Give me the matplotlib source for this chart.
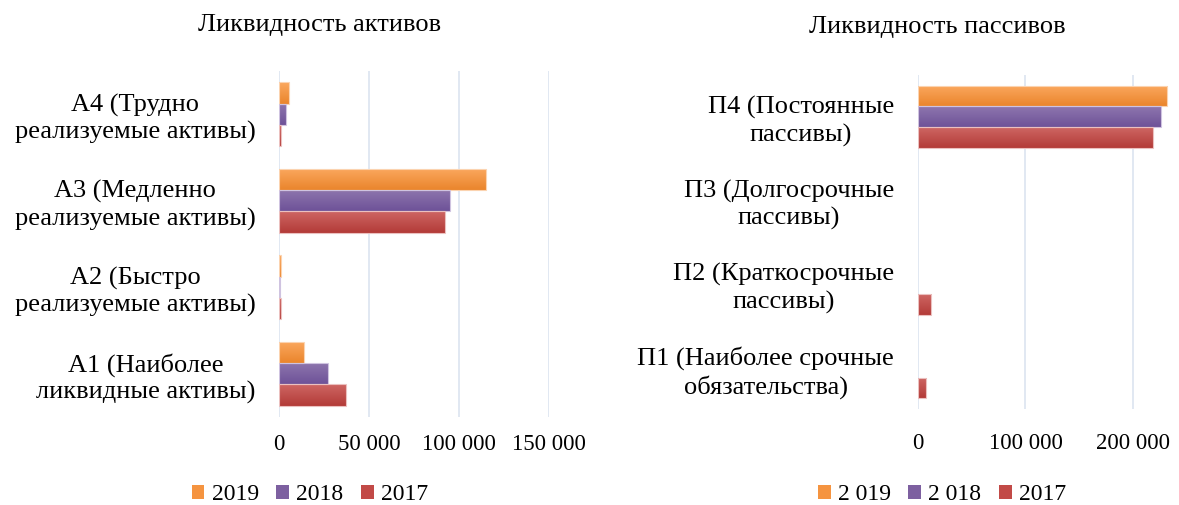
import matplotlib
matplotlib.use("Agg")
import numpy as np
import matplotlib.pyplot as plt
from matplotlib.patches import Patch
from matplotlib.colors import LinearSegmentedColormap
from matplotlib.ticker import FuncFormatter

plt.rcParams['font.family'] = ['Liberation Serif', 'DejaVu Serif']

# Ликвидность активов (снизу вверх: А1 .. А4)
assets_labels = ['А1 (Наиболее\nликвидные активы)',
                 'А2 (Быстро\nреализуемые активы)',
                 'А3 (Медленно\nреализуемые активы)',
                 'А4 (Трудно\nреализуемые активы)']
assets_2019 = [13500, 700, 115000, 5200]
assets_2018 = [27000, 600, 95000, 3500]
assets_2017 = [37000, 700, 92000, 900]

# Ликвидность пассивов (снизу вверх: П1 .. П4)
liab_labels = ['П1 (Наиболее срочные\nобязательства)',
               'П2 (Краткосрочные\nпассивы)',
               'П3 (Долгосрочные\nпассивы)',
               'П4 (Постоянные\nпассивы)']
liab_2019 = [0, 0, 0, 231500]
liab_2018 = [0, 0, 0, 225500]
liab_2017 = [8000, 12500, 0, 218500]

left_legend = ['2019', '2018', '2017']
right_legend = ['2 019', '2 018', '2017']

COLORS = ['#F59440', '#7D60A0', '#C24A47']
GRAD = [('#EA852C', '#FBA85F'), ('#6E5298', '#8E76AE'), ('#B33B38', '#CE6663')]
EDGES = ['#FBD3B0', '#CFC3E0', '#EBC0BF']
GRID = '#DCE4F0'
BH = 0.247


def fmt(x, pos):
    return f'{int(round(x)):,}'.replace(',', ' ')


def draw(ax, labels, series, xmax, ticks, tick_pad):
    ys = range(len(labels))
    offsets = [BH, 0, -BH]
    grad = np.linspace(0, 1, 64).reshape(-1, 1)
    for vals, off, c, g, e in zip(series, offsets, COLORS, GRAD, EDGES):
        bars = ax.barh([y + off for y in ys], vals, height=BH, color=c,
                       linewidth=0, zorder=3)
        cmap = LinearSegmentedColormap.from_list('g', list(g))
        # vertical gradient like the Excel fill
        for p, v in zip(bars.patches, vals):
            if v <= 0:
                continue
            x0, y0 = p.get_x(), p.get_y()
            im = ax.imshow(grad, extent=[x0, x0 + p.get_width(), y0, y0 + p.get_height()],
                           origin='lower', aspect='auto', cmap=cmap, zorder=3.5)
            im.set_clip_path(p)
        ax.barh([y + off for y in ys], vals, height=BH, facecolor='none',
                edgecolor=[e if v > 0 else 'none' for v in vals],
                linewidth=0.8, zorder=4)
    ax.set_xlim(0, xmax)
    ax.set_ylim(-0.5, len(labels) - 0.5)
    ax.set_xticks(ticks)
    ax.xaxis.set_major_formatter(FuncFormatter(fmt))
    ax.set_yticks(list(ys))
    ax.set_yticklabels(labels, multialignment='center', fontsize=19,
                       linespacing=1.25)
    ax.tick_params(axis='y', length=0, pad=17)
    ax.tick_params(axis='x', length=0, pad=tick_pad, labelsize=16.5)
    ax.grid(axis='x', color=GRID, linewidth=1.2, zorder=0)
    for s in ax.spines.values():
        s.set_visible(False)


W, H = 1179, 505
fig = plt.figure(figsize=(W / 100, H / 100), dpi=100)

ax1 = fig.add_axes([279.3 / W, 1 - 417 / H, 270 / W, 346 / H])
draw(ax1, assets_labels, [assets_2019, assets_2018, assets_2017],
     150000, [0, 50000, 100000, 150000], 12)

ax2 = fig.add_axes([917.7 / W, 1 - 409 / H, (W - 917.7) / W, 334 / H])
draw(ax2, liab_labels, [liab_2019, liab_2018, liab_2017],
     242400, [0, 100000, 200000], 17)

fig.text(320 / W, 1 - 25 / H, 'Ликвидность активов', ha='center',
         va='center', fontsize=19)
fig.text(937 / W, 1 - 27 / H, 'Ликвидность пассивов', ha='center',
         va='center', fontsize=19)

for labels, cx in [(left_legend, 310), (right_legend, 942)]:
    handles = [Patch(facecolor=c, edgecolor='none') for c in COLORS]
    fig.legend(handles, labels, loc='center', bbox_to_anchor=(cx / W, 1 - 495 / H),
               ncol=3, frameon=False, fontsize=17, handlelength=0.55,
               handleheight=0.55, handletextpad=0.3, columnspacing=0.75,
               borderpad=0)

fig.savefig('out.png', dpi=100)
